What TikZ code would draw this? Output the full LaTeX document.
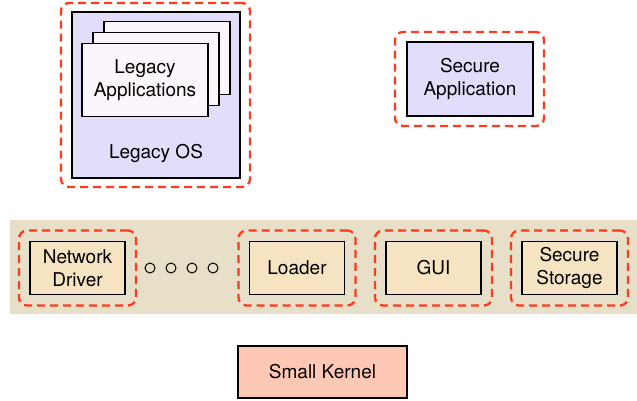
\documentclass[tikz,border=0pt]{standalone}
\usepackage{fontspec}
\setmainfont{TeX Gyre Heros}
\usetikzlibrary{positioning}
\definecolor{guardred}{HTML}{FF3A1E}
\definecolor{osfill}{HTML}{E2DDFB}
\definecolor{appfill}{HTML}{FDF5FC}
\definecolor{bandfill}{HTML}{E8DFC8}
\definecolor{compfill}{HTML}{F5E3C1}
\definecolor{kernfill}{HTML}{FFC8B4}
\tikzset{
  box/.style={draw=black,line width=1.8pt,align=center,inner sep=0pt,
    font=\fontsize{19}{23}\selectfont},
  guard/.style={draw=guardred,line width=2.3pt,dash pattern=on 8pt off 5pt,
    rounded corners=8pt,inner sep=0pt,minimum width=117,minimum height=75},
  comp/.style={box,fill=compfill,minimum width=95,minimum height=53},
  dot/.style={circle,draw=black,line width=1pt,inner sep=0pt,minimum size=10pt},
}
\begin{document}
\begin{tikzpicture}[x=1pt,y=-1pt]
  \useasboundingbox (0,0) rectangle (637,400);
  \def\rowy{268}

  % legacy side
  \node[guard,minimum width=189,minimum height=184] (osguard) at (155.5,95) {};
  \node[box,fill=osfill,minimum width=168,minimum height=166] (legacyos) at (156,95) {};
  \node[box,fill=appfill,minimum width=126,minimum height=73] (appiii) at (167,58) {};
  \node[box,fill=appfill,minimum width=126,minimum height=73] (appii) at (156,69) {};
  \node[box,fill=appfill,minimum width=126,minimum height=73] (appi) at (145,80) {Legacy\\Applications};
  \node[font=\fontsize{19}{23}\selectfont] (oslabel) at (156,153) {Legacy OS};

  % secure application
  \node[guard,minimum width=149,minimum height=94] (appguard) at (469.5,79) {};
  \node[box,fill=osfill,minimum width=126,minimum height=74] (secapp) at (470,79) {Secure\\Application};

  % component band
  \fill[bandfill] (10,220) rectangle (637,314);
  \node[guard] (netguard) at (77.5,\rowy) {};
  \node[comp] (netdrv) at (77.5,\rowy) {Network\\Driver};
  \foreach \i/\x in {1/150,2/171,3/192,4/213}
    \node[dot] (dot\i) at (\x,\rowy) {};
  \node[guard] (loadguard) at (297,\rowy) {};
  \node[comp] (loader) at (297,\rowy) {Loader};
  \node[guard] (guiguard) at (433.5,\rowy) {};
  \node[comp] (gui) at (433.5,\rowy) {GUI};
  \node[guard] (storeguard) at (569.5,\rowy) {};
  \node[comp] (storage) at (569.5,\rowy) {Secure\\Storage};

  % kernel
  \node[box,fill=kernfill,minimum width=169,minimum height=52] (kernel) at (322.5,372) {Small Kernel};
\end{tikzpicture}
\end{document}
